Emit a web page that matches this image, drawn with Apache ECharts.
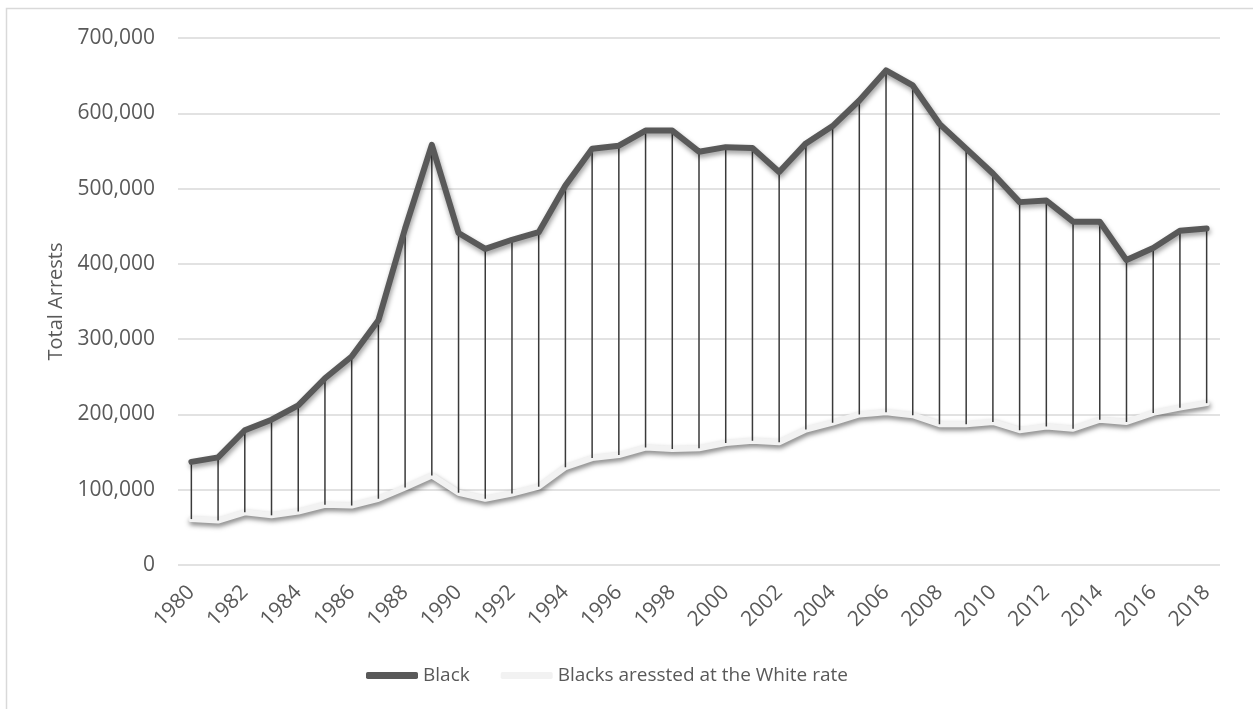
<!DOCTYPE html>
<html>
<head>
<meta charset="utf-8">
<script src="https://cdn.jsdelivr.net/npm/echarts@6/dist/echarts.min.js"></script>
<style>
  html, body { margin: 0; padding: 0; background: #ffffff; }
  #chart { width: 1253px; height: 709px; }
</style>
</head>
<body>
<div id="chart"></div>
<script>
// Arrest totals by year
const years = [
  '1980','1981','1982','1983','1984','1985','1986','1987','1988','1989',
  '1990','1991','1992','1993','1994','1995','1996','1997','1998','1999',
  '2000','2001','2002','2003','2004','2005','2006','2007','2008','2009',
  '2010','2011','2012','2013','2014','2015','2016','2017','2018'
];
const blackArrests = [
  137000, 143000, 179000, 193000, 212000, 248000, 277000, 325000, 447000, 558000,
  441000, 420000, 432000, 442000, 504000, 553000, 557000, 577000, 577000, 549000,
  555000, 554000, 522000, 560000, 583000, 617000, 657000, 637000, 586000, 553000,
  520000, 482000, 484000, 456000, 456000, 405000, 421000, 444000, 447000
];
const whiteRateArrests = [
  61000, 59000, 70000, 66000, 71000, 80000, 79000, 88000, 103000, 119000,
  96000, 88000, 95000, 104000, 130000, 142000, 146000, 156000, 154000, 155000,
  162000, 165000, 163000, 180000, 189000, 200000, 203000, 199000, 187000, 187000,
  190000, 179000, 184000, 181000, 193000, 190000, 202000, 209000, 215000
];
const seriesNames = ['Black', 'Blacks aressted at the White rate'];

const FONT = '"Open Sans", "Noto Sans", sans-serif';
const TEXT = '#595959';

// high-low connectors between the two series for every year
const stemData = years.map((y, i) => [i, blackArrests[i], whiteRateArrests[i]]);

const chart = echarts.init(document.getElementById('chart'), null, { renderer: 'canvas' });
chart.setOption({
  backgroundColor: '#ffffff',
  animation: false,
  textStyle: { fontFamily: FONT, color: TEXT },
  graphic: [{
    type: 'rect',
    silent: true,
    shape: { x: 6.5, y: 8.5, width: 1400, height: 900 },
    style: { fill: 'none', stroke: '#d9d9d9', lineWidth: 1.5 }
  }],
  grid: { left: 178, right: 33, top: 38, bottom: 144, containLabel: false },
  legend: {
    data: seriesNames,
    bottom: 19,
    left: 361,
    icon: 'roundRect',
    itemWidth: 52,
    itemHeight: 7,
    itemGap: 31,
    textStyle: { fontFamily: FONT, fontSize: 19, color: TEXT }
  },
  xAxis: {
    type: 'category',
    data: years,
    boundaryGap: true,
    axisLine: { show: false },
    axisTick: { show: false },
    axisLabel: {
      interval: 1,
      rotate: 45,
      margin: 24,
      fontFamily: FONT,
      fontSize: 21,
      color: TEXT
    }
  },
  yAxis: {
    type: 'value',
    min: 0,
    max: 700000,
    interval: 100000,
    name: 'Total Arrests',
    nameLocation: 'middle',
    nameGap: 112,
    nameTextStyle: { fontFamily: FONT, fontSize: 20, color: TEXT },
    axisLine: { show: false },
    axisTick: { show: false },
    axisLabel: {
      margin: 23,
      fontFamily: FONT,
      fontSize: 21,
      color: TEXT,
      formatter: v => v.toLocaleString('en-US')
    },
    splitLine: { lineStyle: { color: '#d9d9d9', width: 1.5 } }
  },
  series: [
    {
      name: seriesNames[1],
      type: 'line',
      data: whiteRateArrests,
      showSymbol: false,
      symbol: 'none',
      z: 2,
      itemStyle: { color: '#f2f2f2' },
      lineStyle: {
        color: '#f2f2f2', width: 6, join: 'round', cap: 'round',
        shadowColor: 'rgba(0,0,0,0.5)', shadowBlur: 5, shadowOffsetX: 1, shadowOffsetY: 3
      }
    },
    {
      name: 'stems',
      type: 'custom',
      data: stemData,
      z: 3,
      silent: true,
      encode: { x: 0, y: [1, 2] },
      renderItem: function (params, api) {
        const top = api.coord([api.value(0), api.value(1)]);
        const bottom = api.coord([api.value(0), api.value(2)]);
        return {
          type: 'line',
          shape: { x1: top[0], y1: top[1], x2: bottom[0], y2: bottom[1] },
          style: { stroke: '#3a3a3a', lineWidth: 1.5 }
        };
      }
    },
    {
      name: seriesNames[0],
      type: 'line',
      data: blackArrests,
      showSymbol: false,
      symbol: 'none',
      z: 4,
      itemStyle: { color: '#595959' },
      lineStyle: {
        color: '#595959', width: 6, join: 'round', cap: 'round',
        shadowColor: 'rgba(0,0,0,0.4)', shadowBlur: 5, shadowOffsetX: 1, shadowOffsetY: 3
      }
    }
  ]
});
</script>
</body>
</html>
